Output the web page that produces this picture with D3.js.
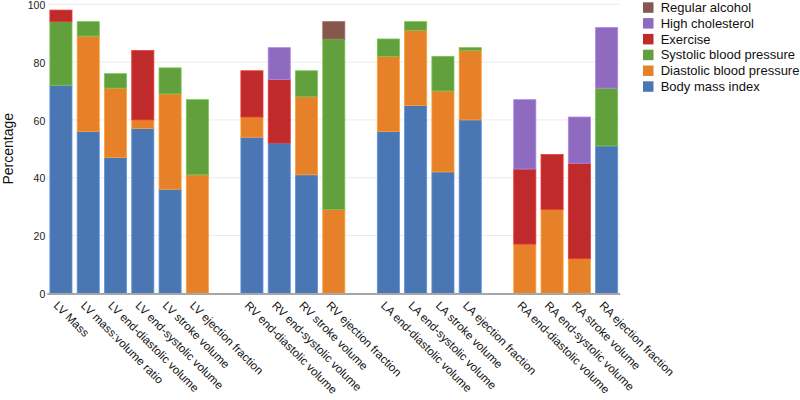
<!DOCTYPE html>
<html>
<head>
<meta charset="utf-8">
<script src="https://cdn.jsdelivr.net/npm/d3@7"></script>
<style>
  html, body { margin: 0; padding: 0; background: #fff; }
  svg { display: block; font-family: "Liberation Sans", Arial, sans-serif; }
</style>
</head>
<body>
<svg id="chart" width="800" height="400"></svg>
<script>
const categories = [
  "LV Mass", "LV mass:volume ratio", "LV end-diastolic volume", "LV end-systolic volume", "LV stroke volume", "LV ejection fraction",
  "RV end-diastolic volume", "RV end-systolic volume", "RV stroke volume", "RV ejection fraction",
  "LA end-diastolic volume", "LA end-systolic volume", "LA stroke volume", "LA ejection fraction",
  "RA end-diastolic volume", "RA end-systolic volume", "RA stroke volume", "RA ejection fraction"
];
const groupOf = [0,0,0,0,0,0, 1,1,1,1, 2,2,2,2, 3,3,3,3];

const seriesNames = ["Body mass index", "Diastolic blood pressure", "Systolic blood pressure", "Exercise", "High cholesterol", "Regular alcohol"];
const bmi        = [72,56,47,57,36,0, 54,52,41,0, 56,65,42,60, 0,0,0,51];
const diastolic  = [0,33,24,3,33,41, 7,0,27,29, 26,26,28,24, 17,29,12,0];
const systolic   = [22,5,5,0,9,26, 0,0,9,59, 6,3,12,1, 0,0,0,20];
const exercise   = [4,0,0,24,0,0, 16,22,0,0, 0,0,0,0, 26,19,33,0];
const cholesterol= [0,0,0,0,0,0, 0,11,0,0, 0,0,0,0, 24,0,16,21];
const alcohol    = [0,0,0,0,0,0, 0,0,0,6, 0,0,0,0, 0,0,0,0];
const yTicks = [0, 20, 40, 60, 80, 100];

const seriesValues = [bmi, diastolic, systolic, exercise, cholesterol, alcohol];
const colors = ["#4a77b4", "#e6812a", "#62a03d", "#bf2b2b", "#8e6bbf", "#85584e"];

const svg = d3.select("#chart");
const plotLeft = 47.3, plotRight = 620.3, plotTop = 4.3, plotBottom = 293.3;

const nSlots = categories.length + 3;
const x = d3.scaleBand()
  .domain(d3.range(nSlots))
  .range([plotLeft, plotRight])
  .paddingInner(0.19)
  .paddingOuter(0.095);
const slot = i => i + groupOf[i];

const y = d3.scaleLinear().domain([0, 100]).range([plotBottom, plotTop]);

// gridlines
svg.append("g").selectAll("line")
  .data(yTicks.filter(t => t > 0))
  .join("line")
  .attr("x1", plotLeft).attr("x2", plotRight)
  .attr("y1", d => y(d)).attr("y2", d => y(d))
  .attr("stroke", "#ebebeb").attr("stroke-width", 1);

// y tick labels
const yAxis = d3.axisLeft(y).tickValues(yTicks).tickSize(0).tickPadding(2);
const gy = svg.append("g").attr("transform", `translate(${plotLeft},0.8)`).call(yAxis);
gy.select(".domain").remove();
gy.selectAll("text").attr("font-size", 10.5).attr("fill", "#222")
  .attr("font-family", "Liberation Sans, Arial, sans-serif");

// stacked data
const table = categories.map((c, i) => {
  const row = { i };
  seriesNames.forEach((s, k) => row[s] = seriesValues[k][i]);
  return row;
});
const stack = d3.stack().keys(seriesNames)(table);

svg.append("g").selectAll("g")
  .data(stack)
  .join("g")
  .attr("fill", (d, k) => colors[k])
  .attr("stroke", (d, k) => d3.color(colors[k]).brighter(0.6))
  .attr("stroke-width", 0.8)
  .selectAll("rect")
  .data(d => d.filter(p => p[1] - p[0] > 0))
  .join("rect")
  .attr("x", p => x(slot(p.data.i)))
  .attr("width", x.bandwidth())
  .attr("y", p => y(p[1]))
  .attr("height", p => y(p[0]) - y(p[1]));

// x axis line
svg.append("line")
  .attr("x1", plotLeft).attr("x2", plotRight)
  .attr("y1", plotBottom + 0.7).attr("y2", plotBottom + 0.7)
  .attr("stroke", "#a6a6a6").attr("stroke-width", 2);

// x labels
svg.append("g").selectAll("text")
  .data(categories)
  .join("text")
  .attr("transform", (d, i) => `translate(${x(slot(i)) + x.bandwidth() / 2 - 8},${plotBottom + 13}) rotate(45)`)
  .attr("font-size", 11.6)
  .attr("fill", "#111")
  .text(d => d);

// y label
svg.append("text")
  .attr("transform", `translate(13,${(plotTop + plotBottom) / 2}) rotate(-90)`)
  .attr("text-anchor", "middle")
  .attr("font-size", 14)
  .attr("fill", "#111")
  .text("Percentage");

// legend (top to bottom: reverse order)
const legendOrder = d3.range(seriesNames.length).reverse();
const lg = svg.append("g").attr("transform", "translate(643,2.3)");
const item = lg.selectAll("g").data(legendOrder).join("g")
  .attr("transform", (k, j) => `translate(0,${j * 15.8})`);
item.append("rect").attr("width", 10.5).attr("height", 10.5)
  .attr("fill", k => colors[k]);
item.append("text").attr("x", 17.7).attr("y", 9.6)
  .attr("font-size", 13).attr("fill", "#111")
  .text(k => seriesNames[k]);
</script>
</body>
</html>
